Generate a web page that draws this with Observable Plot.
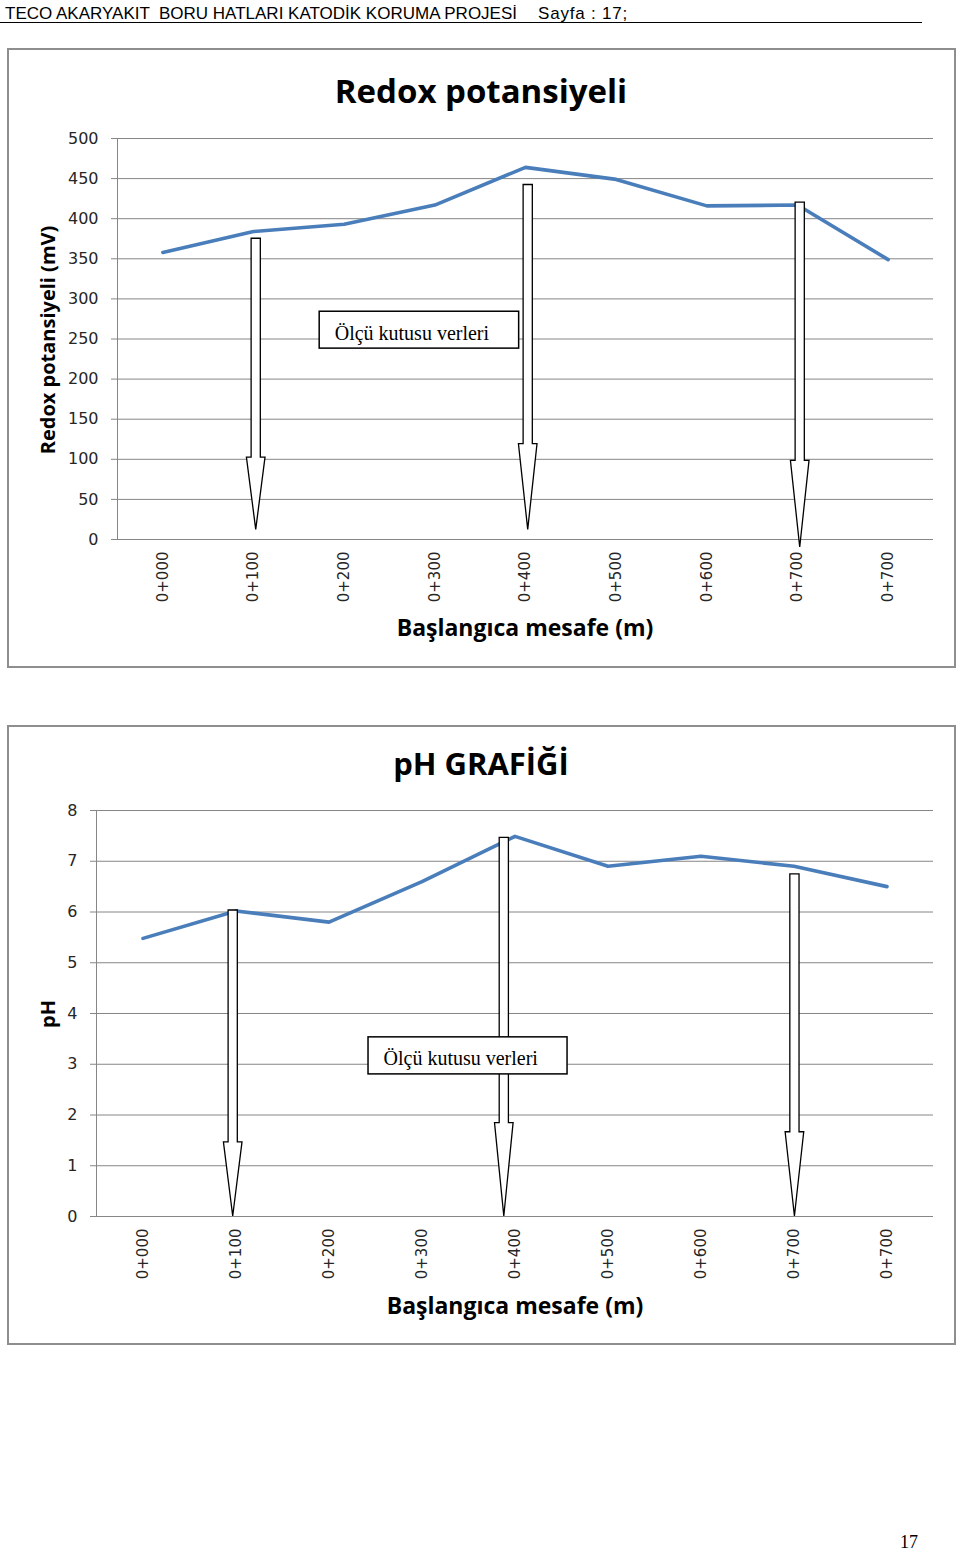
<!DOCTYPE html>
<html>
<head>
<meta charset="utf-8">
<script src="https://cdn.jsdelivr.net/npm/d3@7"></script>
<script src="https://cdn.jsdelivr.net/npm/@observablehq/plot@0.6"></script>
<style>
  html, body { margin: 0; padding: 0; background: #fff; }
  body { position: relative; width: 960px; height: 1552px; overflow: hidden; }
  .abs { position: absolute; white-space: pre; line-height: 1; }
  .hdr { top: 3.5px; font: 17px "Liberation Sans", sans-serif; color: #000; }
  #hline { position: absolute; left: 0; top: 22px; width: 922px; height: 0; border-top: 1.5px solid #000; }
  .box { position: absolute; box-sizing: border-box; border: 2px solid #8e8e8e; background: transparent; pointer-events: none; }
  .title { font: bold 33px "Open Sans", sans-serif; color: #000; transform: translateX(-50%); }
  .xtitle { font: bold 23px "Open Sans", sans-serif; color: #000; transform: translateX(-50%); }
  .ytitle { font: bold 20px "Open Sans", sans-serif; color: #000; transform: translate(-50%, -50%) rotate(-90deg); }
  .chart { position: absolute; left: 0; }
  .chart svg { overflow: visible; }
  .chart g[aria-label^="x-axis"] text { font-size: 15px; fill: #262626; }
  .chart g[aria-label^="y-axis"] text { font-size: 16px; fill: #262626; }
  #pg { left: 900px; top: 1532px; font: 18px "Liberation Serif", serif; color: #000; }
</style>
</head>
<body>
<div class="abs hdr" style="left:5px">TECO AKARYAKIT  BORU HATLARI KATODİK KORUMA PROJESİ</div>
<div class="abs hdr" style="left:538px; letter-spacing:0.8px">Sayfa : 17;</div>
<div id="hline"></div>

<div id="c1" class="chart" style="top:120px"></div>
<div class="abs title" style="left:481px; top:67.5px">Redox potansiyeli</div>
<div class="abs xtitle" style="left:525px; top:611px">Başlangıca mesafe (m)</div>
<div class="abs ytitle" style="left:47.2px; top:340px">Redox potansiyeli (mV)</div>
<div class="box" style="left:7px; top:48px; width:949px; height:620px"></div>

<div id="c2" class="chart" style="top:790px"></div>
<div class="abs title" style="left:481px; top:742px; font-size:31px">pH GRAFİĞİ</div>
<div class="abs xtitle" style="left:515px; top:1289px">Başlangıca mesafe (m)</div>
<div class="abs ytitle" style="left:47.2px; top:1014px">pH</div>
<div class="box" style="left:7px; top:725px; width:949px; height:620px"></div>

<div id="pg" class="abs">17</div>

<script>
// ---- data ----
const xLabels = ["0+000", "0+100", "0+200", "0+300", "0+400", "0+500", "0+600", "0+700", "0+700"];
const xIndex = [0, 1, 2, 3, 4, 5, 6, 7, 8];

const redoxValues = [358, 384, 393, 417, 464, 449, 416, 417, 349];
const redoxTicks = [0, 50, 100, 150, 200, 250, 300, 350, 400, 450, 500];
// block arrows (x in category index units, y in mV)
const redoxArrows = [
  { x: 1.03, top: 375, head: 102, tip: 12 },
  { x: 4.03, top: 442, head: 119, tip: 12 },
  { x: 7.03, top: 420, head: 98, tip: -10 }
];
const redoxNote = { label: "Ölçü kutusu verleri", x1: 1.73, x2: 3.93, y1: 238, y2: 284 };

const phValues = [5.48, 6.02, 5.80, 6.60, 7.49, 6.90, 7.10, 6.90, 6.50];
const phTicks = [0, 1, 2, 3, 4, 5, 6, 7, 8];
const phArrows = [
  { x: 0.97, top: 6.03, head: 1.46, tip: 0 },
  { x: 3.885, top: 7.46, head: 1.84, tip: 0 },
  { x: 7.01, top: 6.74, head: 1.66, tip: 0 }
];
const phNote = { label: "Ölçü kutusu verleri", x1: 2.425, x2: 4.565, y1: 2.80, y2: 3.53 };

// ---- drawing ----
const GRID = "#868686";
const LINE = "#4a7ebb";

function arrowMark(arrows) {
  const sw = 4.6, hw = 9.3;
  return (index, scales) => {
    const g = d3.create("svg:g").attr("aria-label", "arrows");
    for (const a of arrows) {
      const cx = scales.x(a.x), yT = scales.y(a.top), yH = scales.y(a.head), yP = scales.y(a.tip);
      const pts = [[cx - sw, yT], [cx + sw, yT], [cx + sw, yH], [cx + hw, yH], [cx, yP], [cx - hw, yH], [cx - sw, yH]];
      g.append("path")
        .attr("d", "M" + pts.map(p => p.join(",")).join("L") + "Z")
        .attr("fill", "white")
        .attr("stroke", "black")
        .attr("stroke-width", 1.3)
        .attr("stroke-linejoin", "miter");
    }
    return g.node();
  };
}

function chart({ values, yDomain, yTicks, arrows, note, marginLeft, marginTop, plotHeight }) {
  const data = xIndex.map(i => ({ i, v: values[i] }));
  return Plot.plot({
    width: 960,
    height: marginTop + plotHeight + 73,
    marginLeft, marginRight: 27, marginTop, marginBottom: 73,
    style: { background: "transparent", color: GRID, fontFamily: "'DejaVu Sans', sans-serif", fontSize: "16px", overflow: "visible" },
    x: { domain: [-0.5, 8.5], ticks: xIndex, tickFormat: d => xLabels[d], tickRotate: -90, tickSize: 0, tickPadding: 12, label: null, line: false },
    y: { domain: yDomain, ticks: yTicks, tickSize: 6, tickPadding: 13, label: null },
    marks: [
      Plot.ruleY(yTicks, { stroke: GRID, strokeWidth: 1 }),
      Plot.ruleX([-0.5], { y1: yDomain[0], y2: yDomain[1], stroke: GRID, strokeWidth: 1 }),
      Plot.line(data, { x: "i", y: "v", stroke: LINE, strokeWidth: 3.6, strokeLinejoin: "round", strokeLinecap: "round" }),
      arrowMark(arrows),
      Plot.rect([note], { x1: "x1", x2: "x2", y1: "y1", y2: "y2", fill: "white", stroke: "black", strokeWidth: 1.5 }),
      Plot.text([note], { x: "x1", y: d => (d.y1 + d.y2) / 2, text: "label", textAnchor: "start", dx: 15, dy: 3, fill: "black", fontSize: 20, fontFamily: "'Liberation Serif', serif" })
    ]
  });
}

document.getElementById("c1").append(chart({
  values: redoxValues, yDomain: [0, 500], yTicks: redoxTicks, arrows: redoxArrows, note: redoxNote,
  marginLeft: 117, marginTop: 18, plotHeight: 401
}));
document.getElementById("c2").append(chart({
  values: phValues, yDomain: [0, 8], yTicks: phTicks, arrows: phArrows, note: phNote,
  marginLeft: 96, marginTop: 20, plotHeight: 406
}));
</script>
</body>
</html>
